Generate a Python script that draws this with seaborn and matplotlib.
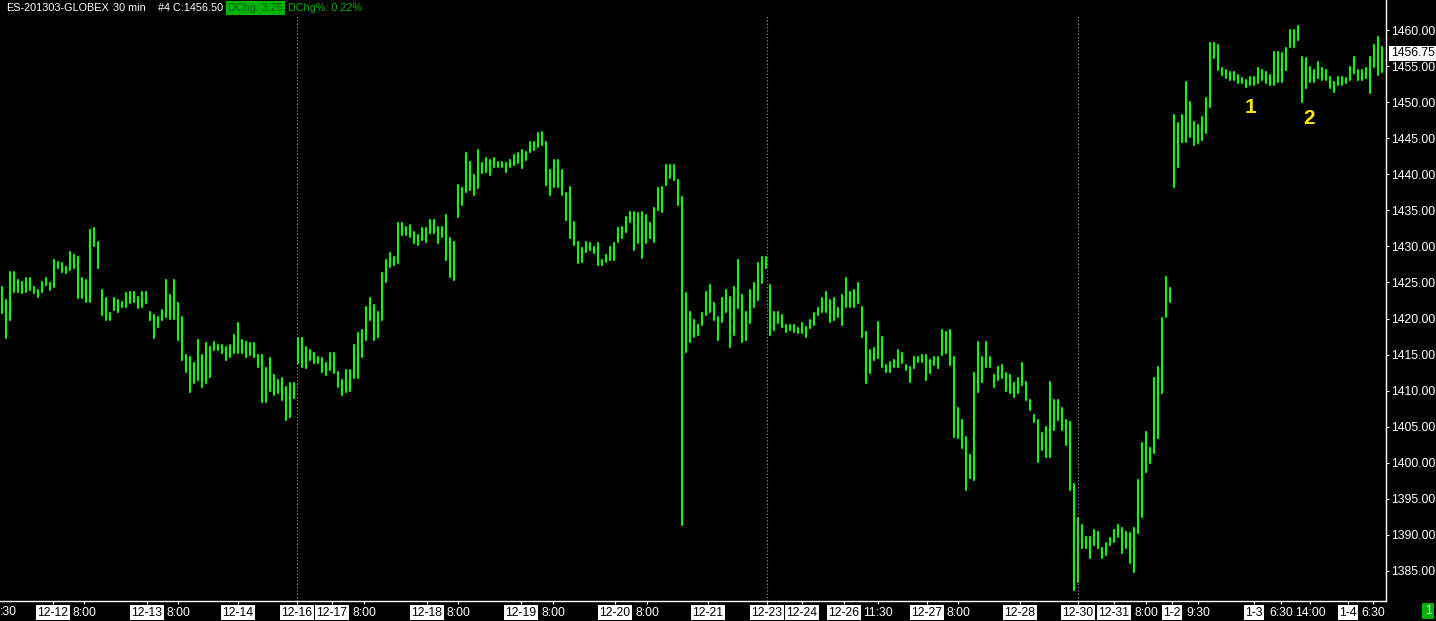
import numpy as np
import pandas as pd
import matplotlib
matplotlib.use("Agg")
import matplotlib.pyplot as plt
import seaborn as sns
from matplotlib.transforms import blended_transform_factory

# ---------------- data (30-min bars, sampled every second bar) ----------------
bar_high = [
    1424.4, 1422.5, 1426.5, 1426.5, 1425.3, 1425.0, 1425.6, 1425.6, 1424.4, 1424.0,
    1425.0, 1425.6, 1424.9, 1428.1, 1427.8, 1427.7, 1427.1, 1429.2, 1428.8, 1428.5,
    1425.6, 1425.3, 1432.3, 1432.5, 1430.6, 1424.0, 1422.8, 1420.8, 1422.8, 1422.6,
    1422.3, 1423.5, 1423.7, 1423.7, 1423.0, 1423.7, 1423.7, 1420.9, 1420.5, 1420.2,
    1421.2, 1425.3, 1423.3, 1425.3, 1422.2, 1420.2, 1415.0, 1414.7, 1413.8, 1417.0,
    1415.0, 1416.6, 1416.0, 1416.7, 1416.4, 1416.3, 1416.0, 1416.3, 1417.7, 1419.4,
    1417.0, 1416.7, 1416.6, 1416.6, 1415.0, 1415.0, 1413.1, 1414.5, 1412.2, 1411.5,
    1411.8, 1410.5, 1411.0, 1411.0, 1417.3, 1417.3, 1416.0, 1415.6, 1415.2, 1414.7,
    1414.5, 1413.8, 1415.2, 1415.2, 1412.6, 1411.5, 1412.9, 1412.9, 1416.3, 1418.0,
    1418.4, 1421.6, 1422.8, 1421.9, 1420.9, 1426.3, 1428.1, 1429.1, 1428.5, 1433.2,
    1433.2, 1432.7, 1433.0, 1432.0, 1431.6, 1432.5, 1432.5, 1433.7, 1433.7, 1432.7,
    1432.7, 1434.4, 1431.2, 1430.6, 1438.5, 1438.1, 1443.0, 1441.7, 1439.9, 1443.4,
    1441.6, 1442.3, 1442.0, 1442.3, 1441.7, 1441.7, 1441.6, 1442.0, 1442.7, 1442.9,
    1443.4, 1443.1, 1444.5, 1444.5, 1445.7, 1445.9, 1444.5, 1440.6, 1442.0, 1442.0,
    1440.6, 1437.4, 1438.2, 1433.4, 1430.6, 1429.8, 1430.6, 1430.5, 1429.9, 1430.5,
    1428.1, 1428.8, 1429.9, 1430.5, 1432.5, 1432.7, 1434.1, 1434.8, 1434.8, 1434.6,
    1434.8, 1434.4, 1433.2, 1435.3, 1438.1, 1438.2, 1441.3, 1441.3, 1441.3, 1439.2,
    1436.8, 1423.5, 1420.9, 1419.8, 1419.1, 1420.8, 1423.7, 1424.6, 1422.2, 1420.2,
    1422.8, 1424.0, 1423.0, 1424.4, 1428.1, 1423.3, 1420.9, 1424.0, 1424.9, 1427.7,
    1428.5, 1428.5, 1424.6, 1420.9, 1420.9, 1420.5, 1419.1, 1419.1, 1419.1, 1418.7,
    1419.4, 1418.8, 1419.8, 1420.8, 1421.5, 1422.8, 1423.7, 1422.6, 1422.8, 1421.5,
    1423.3, 1425.6, 1423.7, 1424.0, 1424.9, 1421.6, 1418.1, 1415.6, 1415.9, 1419.5,
    1417.4, 1413.6, 1414.0, 1414.2, 1415.6, 1415.2, 1413.6, 1413.3, 1414.7, 1414.7,
    1415.0, 1415.0, 1414.2, 1414.7, 1414.7, 1418.4, 1418.1, 1418.4, 1414.7, 1407.6,
    1405.9, 1403.6, 1401.1, 1412.4, 1416.7, 1414.7, 1416.7, 1414.7, 1412.2, 1413.3,
    1413.6, 1412.4, 1412.2, 1411.0, 1411.8, 1413.8, 1411.2, 1408.7, 1406.6, 1405.9,
    1404.1, 1405.0, 1411.2, 1408.7, 1408.7, 1407.6, 1405.9, 1405.6, 1397.0, 1392.3,
    1391.4, 1389.7, 1389.7, 1390.7, 1390.4, 1388.2, 1388.9, 1389.6, 1390.7, 1391.4,
    1391.0, 1390.4, 1390.3, 1391.0, 1397.6, 1402.7, 1404.3, 1402.0, 1411.8, 1413.3,
    1420.1, 1425.8, 1424.2, 1448.2, 1447.1, 1448.2, 1452.8, 1450.0, 1447.2, 1446.8,
    1447.9, 1450.6, 1458.2, 1458.2, 1457.9, 1454.7, 1454.5, 1454.2, 1454.2, 1453.8,
    1453.3, 1453.1, 1453.5, 1453.5, 1454.7, 1454.5, 1454.2, 1453.8, 1457.0, 1457.0,
    1456.8, 1457.5, 1460.0, 1460.0, 1460.6, 1456.3, 1456.1, 1454.9, 1454.5, 1455.6,
    1454.7, 1454.5, 1453.5, 1452.8, 1453.5, 1453.5, 1453.3, 1454.9, 1456.3, 1454.5,
    1454.5, 1454.7, 1456.3, 1457.9, 1459.0, 1457.6,
]
bar_low = [
    1420.7, 1417.3, 1419.8, 1423.7, 1423.7, 1423.5, 1423.7, 1424.0, 1423.5, 1423.0,
    1423.7, 1424.6, 1424.0, 1424.4, 1427.0, 1426.4, 1426.3, 1426.7, 1427.0, 1422.8,
    1422.8, 1422.3, 1422.3, 1430.0, 1427.0, 1420.5, 1419.8, 1419.8, 1421.2, 1420.9,
    1421.6, 1421.6, 1422.2, 1422.3, 1421.5, 1421.6, 1422.2, 1419.8, 1417.3, 1418.8,
    1419.8, 1420.2, 1420.0, 1420.0, 1417.0, 1414.2, 1412.6, 1409.8, 1411.1, 1411.5,
    1410.5, 1411.1, 1411.9, 1415.6, 1415.6, 1415.2, 1414.2, 1414.7, 1415.2, 1415.2,
    1415.2, 1414.7, 1415.0, 1414.7, 1413.3, 1408.4, 1408.4, 1410.0, 1409.4, 1409.7,
    1408.7, 1405.9, 1406.3, 1409.0, 1413.8, 1413.3, 1413.1, 1414.2, 1413.8, 1413.8,
    1412.6, 1412.2, 1412.9, 1412.5, 1410.5, 1409.4, 1409.8, 1410.0, 1411.8, 1411.8,
    1414.7, 1417.0, 1419.8, 1417.0, 1417.4, 1419.8, 1425.0, 1427.1, 1427.4, 1427.7,
    1431.6, 1431.6, 1431.3, 1430.5, 1430.2, 1430.9, 1430.6, 1431.9, 1431.9, 1430.5,
    1431.3, 1428.1, 1425.8, 1425.3, 1434.1, 1435.7, 1437.5, 1437.8, 1437.1, 1438.1,
    1440.2, 1440.3, 1439.9, 1441.0, 1441.0, 1441.0, 1440.3, 1441.0, 1441.3, 1441.6,
    1440.9, 1442.0, 1443.1, 1443.4, 1443.8, 1444.1, 1438.5, 1437.1, 1438.2, 1438.2,
    1437.1, 1433.7, 1431.2, 1430.2, 1427.7, 1427.8, 1429.2, 1429.5, 1429.1, 1427.4,
    1427.4, 1427.8, 1428.1, 1428.1, 1430.6, 1431.2, 1432.0, 1433.4, 1429.5, 1430.5,
    1428.4, 1430.5, 1431.2, 1430.6, 1435.0, 1434.8, 1438.5, 1439.5, 1439.2, 1435.7,
    1391.4, 1415.4, 1416.7, 1417.4, 1417.7, 1419.1, 1420.5, 1420.9, 1419.8, 1417.0,
    1419.5, 1420.9, 1416.0, 1417.7, 1421.5, 1416.7, 1417.0, 1419.4, 1421.6, 1422.6,
    1424.9, 1427.0, 1417.7, 1418.4, 1419.4, 1418.8, 1418.1, 1418.4, 1418.1, 1418.0,
    1418.0, 1417.4, 1418.7, 1419.1, 1420.5, 1420.9, 1420.9, 1419.5, 1419.8, 1420.2,
    1419.1, 1421.6, 1421.6, 1421.6, 1422.2, 1417.4, 1411.1, 1412.5, 1414.2, 1414.5,
    1413.3, 1412.6, 1412.6, 1413.3, 1413.3, 1413.8, 1412.9, 1411.2, 1413.1, 1414.0,
    1414.0, 1411.5, 1412.5, 1413.6, 1413.1, 1415.0, 1415.2, 1413.6, 1403.6, 1403.4,
    1402.0, 1396.2, 1397.9, 1397.6, 1409.8, 1411.2, 1413.3, 1413.3, 1410.5, 1411.5,
    1411.8, 1410.0, 1409.7, 1409.1, 1409.7, 1410.8, 1408.7, 1407.3, 1405.7, 1400.1,
    1401.8, 1400.8, 1400.8, 1404.5, 1405.9, 1404.5, 1402.5, 1396.2, 1382.4, 1383.5,
    1388.2, 1388.2, 1386.8, 1388.6, 1388.2, 1386.8, 1387.2, 1388.6, 1389.0, 1389.7,
    1387.5, 1388.2, 1386.1, 1384.9, 1390.3, 1392.5, 1398.7, 1400.0, 1401.4, 1403.4,
    1409.7, 1420.2, 1422.3, 1438.2, 1441.0, 1444.5, 1444.5, 1445.2, 1444.1, 1444.3,
    1444.8, 1445.7, 1449.3, 1456.1, 1454.5, 1453.8, 1453.3, 1453.1, 1453.1, 1452.7,
    1452.7, 1452.1, 1452.4, 1452.4, 1452.7, 1453.1, 1452.7, 1452.4, 1452.4, 1452.8,
    1452.8, 1454.5, 1457.6, 1457.6, 1458.6, 1450.0, 1452.0, 1452.8, 1452.8, 1453.3,
    1453.1, 1453.1, 1452.0, 1451.4, 1452.4, 1452.4, 1452.7, 1453.1, 1454.0, 1453.1,
    1453.1, 1453.3, 1451.3, 1454.9, 1453.8, 1454.2,
]

# x-axis tick positions (bar index) and labels; labels with "-" are dates (boxed)
tick_pos = [12.75, 20.5, 36.25, 44.0, 59.0, 73.75, 82.5, 90.5, 106.25, 114.0,
            129.75, 137.75, 153.25, 161.25, 176.5, 191.25, 200.0, 210.5, 219.0,
            231.25, 239.0, 254.5, 269.0, 278.0, 286.0, 292.5, 299.0, 313.0,
            319.75, 327.0, 336.5, 342.75]
tick_text = ["12-12", "8:00", "12-13", "8:00", "12-14", "12-16", "12-17", "8:00",
             "12-18", "8:00", "12-19", "8:00", "12-20", "8:00", "12-21", "12-23",
             "12-24", "12-26", "11:30", "12-27", "8:00", "12-28", "12-30", "12-31",
             "8:00", "1-2", "9:30", "1-3", "6:30", "14:00", "1-4", "6:30"]
session_breaks = [73.75, 191.25, 269.0]
price_ticks = [1385, 1390, 1395, 1400, 1405, 1410, 1415, 1420, 1425, 1430,
               1435, 1440, 1445, 1450, 1455, 1460]
last_price = 1456.75
notes = ["1", "2"]
note_x = [312.25, 326.75]
note_y = [1449.3, 1447.8]
header_parts = ["ES-201303-GLOBEX", "30 min", "#4 C:1456.50", "DChg: 3.25", "DChg%: 0.22%"]

assert len(bar_high) == len(bar_low)
n = len(bar_high)

# long-form table: each bar is a vertical segment low -> high
df = pd.DataFrame({
    "bar": np.repeat(np.arange(n), 2),
    "x": np.repeat(np.arange(n), 2).astype(float),
    "price": np.ravel(np.column_stack([bar_low, bar_high])),
})

# ---------------- style ----------------
sns.set_theme(style="dark", rc={"axes.facecolor": "black", "figure.facecolor": "black",
                                "axes.grid": False})
plt.rcParams["font.family"] = ["Liberation Sans", "DejaVu Sans"]

W, H = 1436, 621
fig = plt.figure(figsize=(W / 100, H / 100), dpi=100, facecolor="black")
ax = fig.add_axes([0, 20 / H, 1386 / W, 601 / H])
ax.set_facecolor("black")

GREEN = "#00ff00"
sns.lineplot(data=df, x="x", y="price", units="bar", estimator=None,
             color=GREEN, lw=1.5, ax=ax, legend=False, sort=False)

ax.set_xlim(-0.5, 346)
ax.set_ylim(1380.84, 1464.16)

# session separators
for s in session_breaks:
    ax.axvline(s, ymin=0, ymax=(601 - 15) / 601, color="#9a9a9a",
               lw=0.8, ls=(0, (1, 2)))

# spines
for side in ["top", "left"]:
    ax.spines[side].set_visible(False)
for side in ["right", "bottom"]:
    ax.spines[side].set_color("white")
    ax.spines[side].set_linewidth(1.0)

# y axis on right
ax.yaxis.tick_right()
ax.set_yticks(price_ticks)
ax.set_yticklabels([f"{v:.2f}" for v in price_ticks])
ax.tick_params(axis="y", colors="white", length=2.2, width=0.8, pad=1.5,
               labelsize=8.8, direction="out", right=True, left=False)
ax.set_ylabel("")

# x axis
ax.set_xticks(tick_pos)
ax.set_xticklabels(tick_text)
ax.tick_params(axis="x", colors="white", length=2.2, width=0.8, pad=1.8,
               labelsize=8.8, direction="out", bottom=True)
ax.set_xlabel("")
for lab in ax.get_xticklabels():
    if "-" in lab.get_text():
        lab.set_color("black")
        lab.set_bbox(dict(boxstyle="square,pad=0.12", facecolor="white",
                          edgecolor="none"))
    else:
        lab.set_color("white")

# clipped label at left edge
fig.text(0 / W, 1 - 612 / H, ":30", color="white", fontsize=8.8,
         ha="left", va="center")

# last price tag on the right axis
trans = blended_transform_factory(ax.transAxes, ax.transData)
ax.text(1.0035, last_price, f"{last_price:.2f}", transform=trans, color="black",
        fontsize=8.8, ha="left", va="center", clip_on=False,
        bbox=dict(boxstyle="square,pad=0.15", facecolor="white", edgecolor="none"))

# annotations
for t, x, y in zip(notes, note_x, note_y):
    ax.text(x, y, t, color="#ffe600", fontsize=15, fontweight="bold",
            ha="center", va="center")

# header
hy = 1 - 8 / H
HF = 7.8
fig.text(6 / W, hy, header_parts[0], color="white", fontsize=HF, ha="left", va="center")
fig.text(113 / W, hy, header_parts[1], color="white", fontsize=HF, ha="left", va="center")
fig.text(158 / W, hy, header_parts[2], color="white", fontsize=HF, ha="left", va="center")
fig.text(228 / W, hy, header_parts[3], color="#006000", fontsize=HF,
         ha="left", va="center",
         bbox=dict(boxstyle="square,pad=0.15", facecolor="#00b400", edgecolor="none"))
fig.text(288 / W, hy, header_parts[4], color="#00b400", fontsize=HF,
         ha="left", va="center")

# bottom-right marker
fig.text(1428 / W, 1 - 611 / H, "1", color="white", fontsize=8.8,
         ha="center", va="center",
         bbox=dict(boxstyle="square,pad=0.2", facecolor="#00b400", edgecolor="none"))

fig.savefig("out.png", dpi=100, facecolor="black")
